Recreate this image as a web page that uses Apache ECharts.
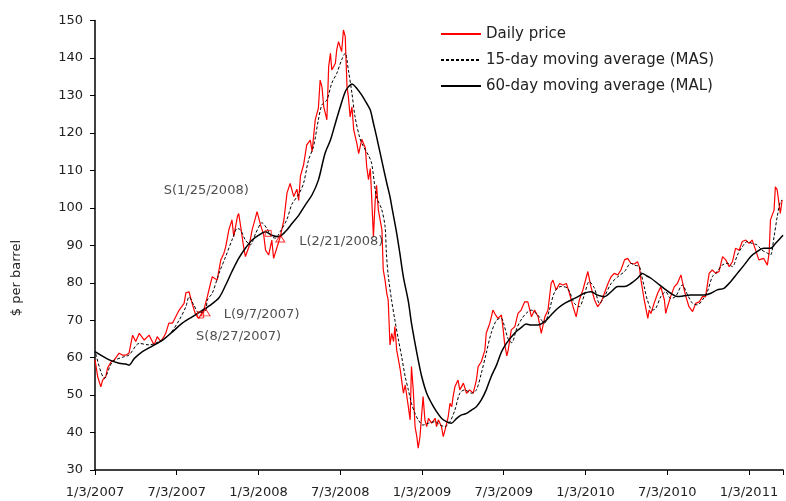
<!DOCTYPE html>
<html lang="en">
<head>
    <meta charset="UTF-8">
    <title>Daily price and moving averages</title>
    <script src="https://cdn.jsdelivr.net/npm/echarts@6/dist/echarts.min.js"></script>
    <style>
        html, body { margin: 0; padding: 0; background: #ffffff; }
        #chart { width: 786px; height: 501px; }
    </style>
</head>
<body>
<div id="chart"></div>
<script>
    // x values are calendar days counted from 1/3/2007
    var xTickLabels = ['1/3/2007', '7/3/2007', '1/3/2008', '7/3/2008', '1/3/2009',
        '7/3/2009', '1/3/2010', '7/3/2010', '1/3/2011'];
    var yTicks = { min: 30, max: 150, step: 10 };

    // daily price
    var dailyPrice = [
        [0, 59.5], [6, 54.9], [13, 52.2], [17, 54.0], [24, 54.9], [28, 57.2], [36, 58.9], [43, 59.4],
        [54, 61.2], [61, 60.7], [69, 60.7], [76, 61.2], [84, 66.0], [91, 64.3], [99, 66.5], [110, 64.7],
        [121, 66.0], [132, 63.4], [139, 65.6], [147, 64.3], [154, 65.6], [158, 66.5], [165, 69.2], [173, 69.2],
        [177, 68.7], [188, 72.7], [199, 74.5], [203, 77.3], [210, 77.6], [217, 74.5], [225, 71.4], [232, 70.5],
        [236, 71.4], [243, 72.7], [251, 76.3], [258, 79.8], [262, 81.6], [273, 80.7], [281, 86.1], [288, 87.9],
        [292, 89.6], [299, 94.1], [306, 96.8], [310, 92.3], [318, 97.6], [321, 98.5], [325, 95.4], [332, 89.6],
        [336, 87.0], [344, 89.6], [351, 94.1], [359, 97.6], [362, 99.0], [370, 95.4], [377, 92.7], [381, 88.7],
        [388, 87.4], [395, 91.4], [399, 86.5], [407, 89.6], [414, 92.3], [422, 96.8], [429, 104.0], [436, 106.5],
        [444, 103.0], [451, 105.0], [455, 102.0], [459, 108.5], [466, 111.5], [473, 116.8], [481, 118.1], [485, 115.0],
        [492, 123.5], [499, 126.6], [503, 134.1], [507, 132.3], [511, 127.0], [518, 123.5], [522, 137.7], [526, 141.3],
        [529, 136.8], [537, 138.6], [540, 142.2], [544, 144.4], [551, 141.7], [555, 147.5], [559, 145.7], [563, 132.3],
        [566, 129.7], [570, 124.3], [574, 127.0], [578, 120.8], [581, 121.0], [585, 117.2], [589, 114.5], [596, 118.3],
        [600, 118.0], [604, 116.0], [607, 111.0], [611, 107.5], [615, 110.5], [618, 103.0], [622, 92.3], [626, 102.0],
        [629, 106.0], [633, 99.4], [641, 94.1], [644, 83.4], [648, 80.7], [652, 77.0], [655, 75.4], [659, 63.4],
        [663, 66.5], [667, 64.3], [670, 68.3], [674, 62.0], [678, 59.4], [682, 56.7], [685, 54.0], [689, 50.5],
        [693, 52.7], [700, 46.9], [704, 43.4], [707, 57.6], [711, 51.4], [715, 41.6], [719, 38.9], [722, 35.8],
        [726, 38.9], [730, 45.1], [733, 49.6], [737, 43.4], [741, 41.6], [745, 43.8], [752, 42.5], [760, 43.8],
        [763, 41.6], [767, 43.4], [774, 41.6], [778, 38.9], [782, 40.7], [789, 44.2], [793, 47.8], [797, 46.9],
        [800, 49.6], [804, 52.2], [811, 54.0], [815, 51.4], [823, 53.2], [830, 50.5], [837, 51.4], [845, 50.5],
        [852, 54.0], [856, 57.6], [863, 58.9], [871, 62.0], [874, 66.5], [882, 69.2], [889, 72.7], [893, 71.8],
        [900, 70.5], [908, 71.4], [912, 67.4], [915, 63.8], [920, 60.5], [923, 62.0], [930, 67.4], [938, 68.3],
        [945, 71.8], [952, 72.7], [960, 74.9], [967, 74.9], [975, 70.9], [982, 72.7], [990, 70.9], [997, 66.5],
        [1005, 70.9], [1012, 72.7], [1019, 79.8], [1023, 80.7], [1030, 78.1], [1038, 79.8], [1045, 79.4], [1053, 79.8],
        [1060, 77.2], [1068, 73.6], [1075, 70.9], [1082, 75.4], [1090, 78.1], [1097, 81.2], [1101, 83.0], [1108, 78.9],
        [1116, 75.4], [1123, 73.6], [1131, 74.9], [1138, 77.2], [1146, 79.8], [1153, 81.6], [1160, 82.5], [1168, 82.1],
        [1175, 83.4], [1183, 86.1], [1190, 86.5], [1197, 85.2], [1205, 85.0], [1212, 85.6], [1216, 84.3], [1220, 80.5],
        [1227, 75.4], [1235, 70.5], [1238, 72.7], [1242, 71.8], [1249, 74.5], [1257, 77.2], [1264, 78.9], [1272, 75.4],
        [1275, 71.8], [1279, 73.6], [1286, 76.3], [1294, 78.9], [1301, 79.8], [1309, 82.1], [1313, 79.8], [1320, 76.3],
        [1327, 73.6], [1335, 72.3], [1342, 74.5], [1350, 74.9], [1357, 76.3], [1364, 76.3], [1372, 82.5], [1379, 83.4],
        [1387, 82.5], [1394, 83.0], [1402, 87.0], [1409, 86.1], [1417, 84.3], [1424, 85.6], [1431, 89.2], [1439, 88.7],
        [1446, 91.0], [1454, 91.4], [1461, 90.5], [1468, 91.4], [1476, 88.7], [1483, 86.1], [1494, 86.5], [1502, 84.7],
        [1506, 87.9], [1509, 96.8], [1517, 99.4], [1520, 105.6], [1524, 104.8], [1528, 101.2], [1531, 98.5], [1535, 102.1]
    ];

    // 15-day moving average (MAS)
    var mas = [
        [2, 61.0], [21, 54.5], [39, 58.9], [61, 60.1], [76, 60.7], [99, 63.8], [121, 63.4], [143, 64.3],
        [165, 66.0], [188, 70.0], [203, 73.6], [210, 76.2], [221, 74.0], [232, 72.0], [247, 72.5], [251, 75.4],
        [262, 77.2], [277, 82.5], [292, 87.0], [306, 91.4], [318, 94.5], [325, 94.1], [336, 91.4], [347, 90.1],
        [359, 93.2], [373, 96.0], [384, 94.5], [395, 92.3], [403, 91.9], [414, 93.7], [429, 97.0], [440, 101.0],
        [455, 103.6], [466, 106.6], [477, 112.8], [488, 116.3], [499, 123.5], [507, 127.5], [518, 128.8], [529, 133.3],
        [540, 135.9], [551, 139.5], [559, 141.3], [566, 136.8], [574, 130.6], [581, 124.3], [592, 118.5], [600, 116.3],
        [611, 114.0], [618, 111.9], [629, 102.8], [640, 99.8], [648, 95.0], [651, 87.9], [655, 82.0], [663, 75.0],
        [670, 70.0], [678, 64.7], [685, 60.3], [693, 54.9], [700, 51.4], [707, 47.8], [715, 45.1], [722, 43.4],
        [733, 42.0], [745, 42.5], [760, 42.9], [771, 42.0], [782, 41.6], [793, 42.9], [804, 46.0], [815, 50.5],
        [826, 51.4], [841, 50.5], [852, 51.4], [863, 55.8], [874, 61.2], [885, 66.5], [897, 70.0], [908, 70.5],
        [912, 69.5], [923, 65.0], [931, 64.0], [942, 67.8], [954, 70.5], [963, 71.8], [974, 72.7], [989, 71.4],
        [1004, 69.2], [1015, 72.7], [1027, 77.6], [1041, 79.0], [1056, 78.5], [1071, 74.5], [1082, 73.6], [1093, 76.7],
        [1104, 80.3], [1116, 78.5], [1127, 74.5], [1138, 76.3], [1153, 79.8], [1168, 81.6], [1183, 83.0], [1197, 85.2],
        [1205, 84.7], [1216, 84.3], [1220, 82.5], [1227, 78.9], [1234, 75.4], [1245, 72.7], [1253, 73.2], [1264, 76.3],
        [1275, 77.6], [1286, 75.8], [1297, 76.3], [1312, 79.4], [1324, 76.7], [1335, 74.5], [1346, 74.1], [1357, 75.4],
        [1368, 77.6], [1379, 81.6], [1390, 83.0], [1401, 84.7], [1413, 85.2], [1424, 84.3], [1435, 87.4], [1446, 89.6],
        [1457, 91.0], [1468, 90.5], [1479, 90.1], [1490, 88.7], [1502, 87.9], [1509, 87.4], [1517, 92.3], [1524, 97.6],
        [1531, 101.6], [1535, 102.1]
    ];

    // 60-day moving average (MAL)
    var mal = [
        [0, 61.6], [32, 59.4], [54, 58.5], [69, 58.3], [76, 58.0], [88, 59.8], [106, 61.6], [128, 63.1],
        [151, 64.7], [173, 66.9], [195, 69.2], [217, 70.9], [232, 72.0], [255, 73.8], [277, 76.0], [292, 79.4],
        [306, 83.0], [321, 86.5], [336, 89.2], [351, 91.4], [366, 92.7], [381, 93.6], [395, 92.7], [410, 92.3],
        [425, 93.6], [440, 95.8], [455, 98.0], [470, 100.8], [485, 103.5], [499, 107.4], [514, 114.6], [526, 118.1],
        [537, 122.6], [548, 127.0], [559, 131.0], [566, 132.3], [574, 133.1], [585, 131.9], [596, 130.1], [607, 127.9],
        [615, 126.1], [622, 122.6], [629, 119.0], [640, 113.0], [652, 106.5], [659, 103.0], [663, 100.3], [674, 93.2],
        [681, 87.9], [689, 81.5], [700, 75.0], [707, 69.2], [715, 63.8], [722, 59.4], [730, 54.9], [741, 50.5],
        [752, 47.8], [763, 45.6], [774, 43.8], [785, 42.9], [796, 42.5], [808, 43.8], [819, 44.7], [830, 45.1],
        [841, 46.0], [852, 46.9], [863, 48.7], [874, 51.4], [885, 54.9], [897, 58.0], [908, 61.5], [919, 63.8],
        [930, 65.5], [941, 67.0], [952, 68.0], [963, 69.0], [974, 68.7], [989, 68.7], [1004, 69.6], [1019, 71.4],
        [1034, 73.2], [1049, 74.5], [1064, 75.4], [1079, 76.3], [1093, 77.2], [1108, 77.6], [1123, 76.7], [1138, 76.3],
        [1153, 77.6], [1168, 79.0], [1183, 79.0], [1197, 79.8], [1212, 81.2], [1223, 82.5], [1233, 81.8], [1242, 81.2],
        [1257, 79.8], [1271, 78.5], [1286, 77.2], [1301, 76.3], [1316, 76.5], [1331, 76.7], [1346, 76.7], [1361, 76.7],
        [1376, 77.2], [1390, 78.1], [1405, 78.5], [1420, 80.3], [1435, 82.5], [1450, 84.7], [1465, 87.0], [1479, 88.3],
        [1494, 89.2], [1509, 89.2], [1520, 90.5], [1531, 91.9], [1537, 92.7]
    ];

    // crossover signals: S = short (square), L = long (triangle)
    var signalNames = ['S(8/27/2007)', 'L(9/7/2007)', 'S(1/25/2008)', 'L(2/21/2008)'];
    var signalDays = [236, 247, 387, 414];
    var signalValues = [71.4, 72.1, 93.2, 91.8];

    var seriesNames = ['Daily price', '15-day moving average (MAS)', '60-day moving average (MAL)'];

    var font = 'DejaVu Sans';
    var ink = '#222222';
    var xStep = 1461 / 8;

    // where each signal label sits relative to its marker
    var labelOffsets = [[38, 22], [56, 2], [-62, -43], [61, 3]];

    var signalData = signalNames.map(function (name, i) {
        var isShort = name.charAt(0) === 'S';
        return {
            name: name,
            value: [signalDays[i], signalValues[i]],
            symbol: isShort ? 'rect' : 'triangle',
            symbolSize: isShort ? [6, 6] : [9, 7],
            label: { offset: labelOffsets[i] }
        };
    });

    var myChart = echarts.init(document.getElementById('chart'));

    myChart.setOption({
        animation: false,
        backgroundColor: '#ffffff',
        textStyle: { fontFamily: font },
        grid: { left: 95, right: 0, top: 20.6, bottom: 31 },
        legend: {
            orient: 'vertical',
            left: 440,
            top: 26,
            padding: 0,
            itemWidth: 40,
            itemHeight: 16,
            itemGap: 10,
            itemStyle: { opacity: 0 },
            data: seriesNames,
            textStyle: { fontFamily: font, fontSize: 15, color: ink, lineHeight: 16 }
        },
        xAxis: {
            type: 'value',
            min: 0,
            max: 1537,
            interval: xStep,
            splitLine: { show: false },
            axisLine: { lineStyle: { color: '#000', width: 1.5 } },
            axisTick: { inside: false, length: 5, lineStyle: { color: '#000' } },
            axisLabel: {
                margin: 16,
                fontSize: 13,
                color: ink,
                formatter: function (v) {
                    var i = Math.round(v / xStep);
                    return Math.abs(v - i * xStep) < 0.5 ? xTickLabels[i] : '';
                }
            }
        },
        yAxis: {
            type: 'value',
            min: yTicks.min,
            max: yTicks.max,
            interval: yTicks.step,
            splitLine: { show: false },
            axisLine: { show: true, lineStyle: { color: '#000', width: 1.5 } },
            axisTick: { show: true, length: 5, lineStyle: { color: '#000' } },
            axisLabel: { margin: 12, fontSize: 13, color: ink }
        },
        graphic: [{
            type: 'text',
            left: 10,
            top: 240,
            rotation: Math.PI / 2,
            style: { text: '$ per barrel', font: '13px "DejaVu Sans"', fill: ink }
        }],
        series: [{
            name: seriesNames[0],
            type: 'line',
            data: dailyPrice,
            symbol: 'none',
            lineStyle: { color: '#ff0000', width: 1.2 },
            itemStyle: { color: '#ff0000' }
        }, {
            name: seriesNames[1],
            type: 'line',
            data: mas,
            symbol: 'none',
            smooth: 0.3,
            lineStyle: { color: '#000', width: 1, type: [3, 2] },
            itemStyle: { color: '#000' }
        }, {
            name: seriesNames[2],
            type: 'line',
            data: mal,
            symbol: 'none',
            smooth: 0.3,
            lineStyle: { color: '#000', width: 1.5 },
            itemStyle: { color: '#000' }
        }, {
            name: 'signals',
            type: 'scatter',
            data: signalData,
            z: 5,
            itemStyle: { color: 'rgba(0,0,0,0)', borderColor: '#ff0000', borderWidth: 1 },
            label: {
                show: true,
                position: 'inside',
                formatter: '{b}',
                fontFamily: font,
                fontSize: 13,
                color: ink
            }
        }]
    });
</script>
</body>
</html>
